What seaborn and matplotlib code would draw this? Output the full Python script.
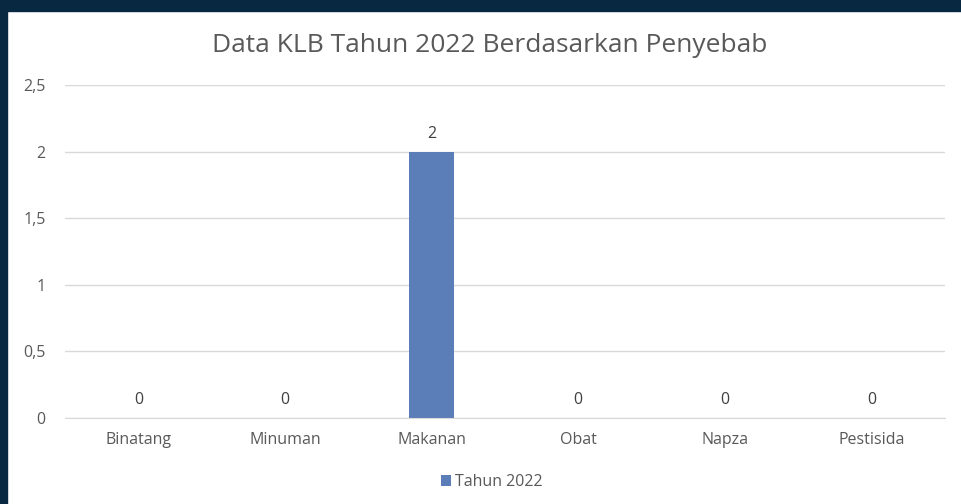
import pandas as pd
import matplotlib.pyplot as plt
import seaborn as sns
from matplotlib.patches import Rectangle
from matplotlib.ticker import FuncFormatter

# Data
penyebab = ['Binatang', 'Minuman', 'Makanan', 'Obat', 'Napza', 'Pestisida']
jumlah = [0, 0, 2, 0, 0, 0]
seri = 'Tahun 2022'

df = pd.DataFrame({'Penyebab': penyebab, 'Jumlah': jumlah, 'Seri': seri})

sns.set_style('white')
plt.rcParams['font.family'] = ['Open Sans', 'DejaVu Sans']

text_col = '#595959'
grid_col = '#d9d9d9'
bar_col = '#5b7db8'

fig = plt.figure(figsize=(9.62, 5.04), dpi=100)
ax = fig.add_axes([0.0676, 0.1706, 0.9144, 0.6607])

sns.barplot(data=df, x='Penyebab', y='Jumlah', hue='Seri',
            palette=[bar_col], saturation=1, width=0.31, linewidth=0, ax=ax)

ax.set_ylim(0, 2.5)
ax.set_xlim(-0.5, 5.5)
ax.set_yticks([0, 0.5, 1, 1.5, 2, 2.5])
ax.yaxis.set_major_formatter(FuncFormatter(lambda v, p: f'{v:g}'.replace('.', ',')))
ax.grid(axis='y', color=grid_col, linewidth=1)
ax.set_axisbelow(True)
for s in ['top', 'right', 'left']:
    ax.spines[s].set_visible(False)
ax.spines['bottom'].set_color(grid_col)
ax.tick_params(axis='both', length=0, colors=text_col, labelsize=11.5)
ax.tick_params(axis='x', pad=10)
ax.tick_params(axis='y', pad=14)
ax.set_xlabel('')
ax.set_ylabel('')

for c in ax.containers:
    ax.bar_label(c, fmt='%g', padding=7, color='#404040', fontsize=11.5)

ax.set_title('Data KLB Tahun 2022 Berdasarkan Penyebab', color=text_col,
             fontsize=19, pad=24, x=0.483)

ax.legend(loc='center', bbox_to_anchor=(0.511, 0.044), bbox_transform=fig.transFigure,
          frameon=False, handlelength=0.65, handleheight=0.65, handletextpad=0.25,
          labelcolor=text_col, fontsize=11.5)

# dark frame at top and left
fig.patches.append(Rectangle((0, 1 - 11 / 504), 1, 11 / 504, transform=fig.transFigure,
                             color='#072840', zorder=-1))
fig.patches.append(Rectangle((0, 0), 7 / 962, 1, transform=fig.transFigure,
                             color='#072840', zorder=-1))

plt.savefig('out.png', dpi=100)
